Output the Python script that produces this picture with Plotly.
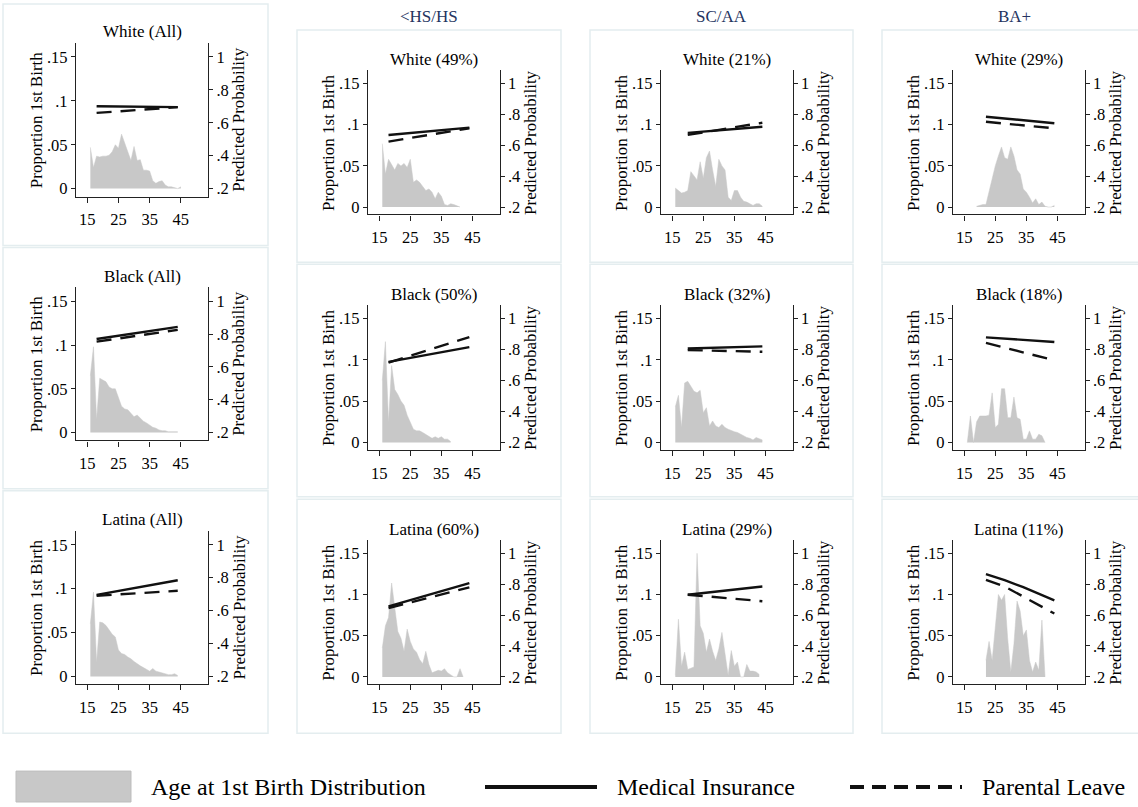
import plotly.graph_objects as go

FIG_W, FIG_H = 1138, 807
FONT = "Liberation Serif, Times New Roman, serif"

# ---------------------------------------------------------------------------
# Data: age at first birth distribution (proportion, left axis) and predicted
# probabilities of support (right axis) by race/ethnicity and education.
# ---------------------------------------------------------------------------
TITLES = ["White (All)", "White (49%)", "White (21%)", "White (29%)",
          "Black (All)", "Black (50%)", "Black (32%)", "Black (18%)",
          "Latina (All)", "Latina (60%)", "Latina (29%)", "Latina (11%)"]
EDU_HEADINGS = ["<HS/HS", "SC/AA", "BA+"]

X_TICKS = [15, 25, 35, 45]
LEFT_TICKS = [0, 0.05, 0.1, 0.15]
LEFT_TICKTEXT = ["0", ".05", ".1", ".15"]
RIGHT_TICKS = [0.2, 0.4, 0.6, 0.8, 1.0]
RIGHT_TICKTEXT = [".2", ".4", ".6", ".8", "1"]

# distribution values by single year of age, starting at the given age
white_all_start = 16
white_all_dist = [.047, .024, .037, .036, .037, .037, .038, .042, .050, .046,
                  .062, .052, .044, .032, .048, .032, .033, .021, .021, .020,
                  .009, .006, .008, .009, .004, .002, .002, .001, 0, .002]
white_hs_start = 16
white_hs_dist = [.077, .040, .058, .052, .045, .053, .050, .053, .048, .058,
                 .030, .033, .030, .025, .020, .022, .018, .010, .018, .013,
                 .003, .002, .004, .003, .001, 0]
white_sc_start = 16
white_sc_dist = [.023, .020, .017, .018, .020, .043, .038, .033, .055, .035,
                 .060, .068, .045, .025, .058, .050, .045, .012, .008, .020,
                 .020, .012, .007, .006, .004, .002, .004, .004, .001]
white_ba_start = 19
white_ba_dist = [.001, .002, .003, .003, .020, .035, .050, .062, .073, .060,
                 .058, .073, .062, .045, .040, .022, .018, .012, .005, .010,
                 .003, .006, .001, 0, 0, .002]

black_all_start = 16
black_all_dist = [.065, .098, .015, .062, .060, .058, .052, .050, .050, .040,
                  .030, .027, .026, .022, .018, .020, .016, .013, .011, .008,
                  .006, .005, .003, .002, .002, .001, .001, .001, .001]
black_hs_start = 16
black_hs_dist = [.075, .122, .024, .093, .064, .058, .050, .045, .033, .024,
                 .016, .014, .014, .012, .010, .008, .005, .007, .005, .007,
                 .004, .004, .001]
black_sc_start = 16
black_sc_dist = [.043, .057, .018, .072, .074, .068, .062, .060, .063, .036,
                 .042, .020, .026, .020, .018, .022, .018, .016, .014, .013,
                 .012, .010, .008, .006, .005, .003, .006, .004, .003]
black_ba_start = 16
black_ba_dist = [0, .032, 0, .025, .032, .032, .032, .033, .060, .018,
                 .022, .065, .065, .030, .030, .055, .030, .028, .004, .004,
                 .014, .004, .004, .010, .008, 0]

latina_all_start = 16
latina_all_dist = [.060, .096, .016, .062, .061, .058, .053, .048, .045, .030,
                   .026, .025, .022, .020, .017, .014, .012, .010, .008, .006,
                   .009, .006, .005, .004, .003, .002, .002, .003, .001]
latina_hs_start = 16
latina_hs_dist = [.035, .062, .072, .114, .084, .055, .047, .031, .058, .043,
                  .034, .030, .021, .016, .031, .015, .005, .007, .008, .007,
                  .010, .005, .003, 0, 0, .010, 0]
latina_sc_start = 16
latina_sc_dist = [.002, .070, .013, .030, .009, .011, .012, .150, .062, .053,
                  .030, .046, .031, .020, .034, .054, .026, .002, .032, .013,
                  .018, 0, 0, .015, .007, .007, .006, .003]
latina_ba_start = 22
latina_ba_dist = [.020, .043, .020, .063, .100, .093, .100, .046, .006, .040,
                  .092, .080, .050, .057, .020, .006, .018, .008, .069, 0]

# predicted probabilities: ages, medical insurance, parental leave
white_all_ages, white_all_ins, white_all_leave = [18, 44], [.700, .695], [.660, .695]
white_hs_ages, white_hs_ins, white_hs_leave = [18, 44], [.667, .714], [.624, .710]
white_sc_ages, white_sc_ins, white_sc_leave = [20, 44], [.680, .720], [.667, .746]
white_ba_ages, white_ba_ins, white_ba_leave = [22, 44], [.785, .743], [.752, .710]

black_all_ages, black_all_ins, black_all_leave = [18, 44], [.770, .844], [.754, .826]
black_hs_ages, black_hs_ins, black_hs_leave = [18, 44], [.720, .815], [.715, .880]
black_sc_ages, black_sc_ins, black_sc_leave = [20, 44], [.806, .820], [.796, .785]
black_ba_ages, black_ba_ins, black_ba_leave = [22, 44], [.878, .848], [.842, .730]

latina_all_ages, latina_all_ins, latina_all_leave = [18, 44], [.695, .784], [.690, .720]
latina_hs_ages, latina_hs_ins, latina_hs_leave = [18, 44], [.657, .807], [.646, .780]
latina_sc_ages, latina_sc_ins, latina_sc_leave = [20, 44], [.732, .785], [.732, .690]
latina_ba_ages = [22, 28, 34, 40, 44]
latina_ba_ins = [.865, .826, .781, .727, .695]
latina_ba_leave = [.828, .785, .720, .655, .610]

PANELS = [
    (white_all_start, white_all_dist, white_all_ages, white_all_ins, white_all_leave),
    (white_hs_start, white_hs_dist, white_hs_ages, white_hs_ins, white_hs_leave),
    (white_sc_start, white_sc_dist, white_sc_ages, white_sc_ins, white_sc_leave),
    (white_ba_start, white_ba_dist, white_ba_ages, white_ba_ins, white_ba_leave),
    (black_all_start, black_all_dist, black_all_ages, black_all_ins, black_all_leave),
    (black_hs_start, black_hs_dist, black_hs_ages, black_hs_ins, black_hs_leave),
    (black_sc_start, black_sc_dist, black_sc_ages, black_sc_ins, black_sc_leave),
    (black_ba_start, black_ba_dist, black_ba_ages, black_ba_ins, black_ba_leave),
    (latina_all_start, latina_all_dist, latina_all_ages, latina_all_ins, latina_all_leave),
    (latina_hs_start, latina_hs_dist, latina_hs_ages, latina_hs_ins, latina_hs_leave),
    (latina_sc_start, latina_sc_dist, latina_sc_ages, latina_sc_ins, latina_sc_leave),
    (latina_ba_start, latina_ba_dist, latina_ba_ages, latina_ba_ins, latina_ba_leave),
]

# ---------------------------------------------------------------------------
# Layout geometry (pixels)
# ---------------------------------------------------------------------------
COL_X = [(76, 208), (368, 499.5), (661, 792.5), (953, 1084.5)]
ROWS_ALL = [(43, 197), (288, 441.5), (532, 686)]
ROWS_EDU = [(70.5, 215), (306, 451), (541.5, 686)]
BOX_X = [(3, 268), (297, 561), (590, 853), (882, 1150)]
BOX_Y_ALL = [(4, 246), (248, 490), (492, 735)]
BOX_Y_EDU = [(30, 263), (265, 498), (500.5, 735)]

X_RANGE = [11.4, 53.7]
LEFT_RANGE = [-0.009, 0.166]
RIGHT_RANGE = [0.2 + LEFT_RANGE[0] / 0.15 * 0.8, 0.2 + LEFT_RANGE[1] / 0.15 * 0.8]

AREA_COLOR = "#c8c8c8"
LINE_COLOR = "#111111"
AXIS_COLOR = "#222222"
BOX_COLOR = "#e4edef"
HEAD_COLOR = "#24345f"
DASH = "15px,9px"
LINE_W = 2.4


def px(x):
    return x / FIG_W


def py(y):
    return 1 - y / FIG_H


fig = go.Figure()
layout = dict(
    width=FIG_W, height=FIG_H,
    margin=dict(l=0, r=0, t=0, b=0),
    paper_bgcolor="white", plot_bgcolor="white",
    showlegend=False,
    font=dict(family=FONT, size=16.5, color="black"),
)
annotations = []
shapes = []

tick_font = dict(family=FONT, size=16.5, color="black")

for k, (start, dist, ages, ins, leave) in enumerate(PANELS):
    row, col = divmod(k, 4)
    x0, x1 = COL_X[col]
    top, bottom = (ROWS_ALL if col == 0 else ROWS_EDU)[row]
    xi = k + 1
    yl = 2 * k + 1
    yr = 2 * k + 2
    xname = "x" if xi == 1 else f"x{xi}"
    ylname = "y" if yl == 1 else f"y{yl}"
    yrname = f"y{yr}"

    dist_ages = list(range(start, start + len(dist)))
    fig.add_trace(go.Scatter(
        x=dist_ages, y=dist, mode="lines", fill="tozeroy",
        fillcolor=AREA_COLOR, line=dict(color=AREA_COLOR, width=0.5),
        xaxis=xname, yaxis=ylname, name="Age at 1st Birth Distribution",
        hoverinfo="skip"))
    fig.add_trace(go.Scatter(
        x=ages, y=ins, mode="lines",
        line=dict(color=LINE_COLOR, width=LINE_W),
        xaxis=xname, yaxis=yrname, name="Medical Insurance"))
    fig.add_trace(go.Scatter(
        x=ages, y=leave, mode="lines",
        line=dict(color=LINE_COLOR, width=LINE_W, dash=DASH),
        xaxis=xname, yaxis=yrname, name="Parental Leave"))

    layout["xaxis" if xi == 1 else f"xaxis{xi}"] = dict(
        domain=[px(x0), px(x1)], anchor=ylname, range=X_RANGE,
        tickvals=X_TICKS, ticktext=[str(t) for t in X_TICKS],
        showline=True, linecolor=AXIS_COLOR, linewidth=1.2,
        ticks="outside", ticklen=5, tickcolor=AXIS_COLOR, tickwidth=1,
        showgrid=False, zeroline=False, tickfont=tick_font,
        ticklabelstandoff=3, fixedrange=True)
    layout["yaxis" if yl == 1 else f"yaxis{yl}"] = dict(
        domain=[py(bottom), py(top)], anchor=xname, range=LEFT_RANGE,
        tickvals=LEFT_TICKS, ticktext=LEFT_TICKTEXT, side="left",
        showline=True, linecolor=AXIS_COLOR, linewidth=1.2,
        ticks="outside", ticklen=4, tickcolor=AXIS_COLOR, tickwidth=1,
        showgrid=False, zeroline=False, tickfont=tick_font, fixedrange=True)
    layout[f"yaxis{yr}"] = dict(
        overlaying=ylname, anchor=xname, side="right", range=RIGHT_RANGE,
        tickvals=RIGHT_TICKS, ticktext=RIGHT_TICKTEXT,
        showline=True, linecolor=AXIS_COLOR, linewidth=1.2,
        ticks="outside", ticklen=4, tickcolor=AXIS_COLOR, tickwidth=1,
        showgrid=False, zeroline=False, tickfont=tick_font, fixedrange=True)

    # panel title and axis titles
    cx = (x0 + x1) / 2
    cy = (top + bottom) / 2
    annotations.append(dict(
        text=TITLES[k], x=px(cx), y=py(top - 11), xref="paper", yref="paper",
        showarrow=False, xanchor="center", yanchor="middle",
        font=dict(family=FONT, size=17, color="black")))
    annotations.append(dict(
        text="Proportion 1st Birth", x=px(x0 - 39.5), y=py(cy),
        xref="paper", yref="paper", showarrow=False, textangle=-90,
        xanchor="center", yanchor="middle",
        font=dict(family=FONT, size=17, color="black")))
    annotations.append(dict(
        text="Predicted Probability", x=px(x1 + 31), y=py(cy),
        xref="paper", yref="paper", showarrow=False, textangle=-90,
        xanchor="center", yanchor="middle",
        font=dict(family=FONT, size=17, color="black")))

# panel frames
for col in range(4):
    bx0, bx1 = BOX_X[col]
    for by0, by1 in (BOX_Y_ALL if col == 0 else BOX_Y_EDU):
        shapes.append(dict(type="rect", xref="paper", yref="paper",
                           x0=px(bx0), x1=px(bx1), y0=py(by1), y1=py(by0),
                           line=dict(color=BOX_COLOR, width=1.5),
                           fillcolor="rgba(0,0,0,0)", layer="below"))

# education column headings
for col, head in enumerate(EDU_HEADINGS, start=1):
    bx0, bx1 = BOX_X[col]
    hx = (bx0 + min(bx1, 1146)) / 2
    annotations.append(dict(
        text=head.replace("<", "&lt;"), x=px(hx), y=py(16.5),
        xref="paper", yref="paper", showarrow=False,
        xanchor="center", yanchor="middle",
        font=dict(family=FONT, size=17, color=HEAD_COLOR)))

# legend
LEG_Y = 789
shapes.append(dict(type="rect", xref="paper", yref="paper",
                   x0=px(16), x1=px(131), y0=py(804), y1=py(773),
                   fillcolor=AREA_COLOR, line=dict(color="#bdbdbd", width=1)))
shapes.append(dict(type="line", xref="paper", yref="paper",
                   x0=px(485), x1=px(597), y0=py(LEG_Y), y1=py(LEG_Y),
                   line=dict(color=LINE_COLOR, width=4)))
shapes.append(dict(type="line", xref="paper", yref="paper",
                   x0=px(850), x1=px(962), y0=py(LEG_Y), y1=py(LEG_Y),
                   line=dict(color=LINE_COLOR, width=4, dash="14px,8px")))
for label, lx in (("Age at 1st Birth Distribution", 149),
                  ("Medical Insurance", 615),
                  ("Parental Leave", 980)):
    annotations.append(dict(
        text=label, x=px(lx), y=py(LEG_Y), xref="paper", yref="paper",
        showarrow=False, xanchor="left", yanchor="middle",
        font=dict(family=FONT, size=24, color="black")))

layout["annotations"] = annotations
layout["shapes"] = shapes
fig.update_layout(**layout)
fig.write_html("out.html")
